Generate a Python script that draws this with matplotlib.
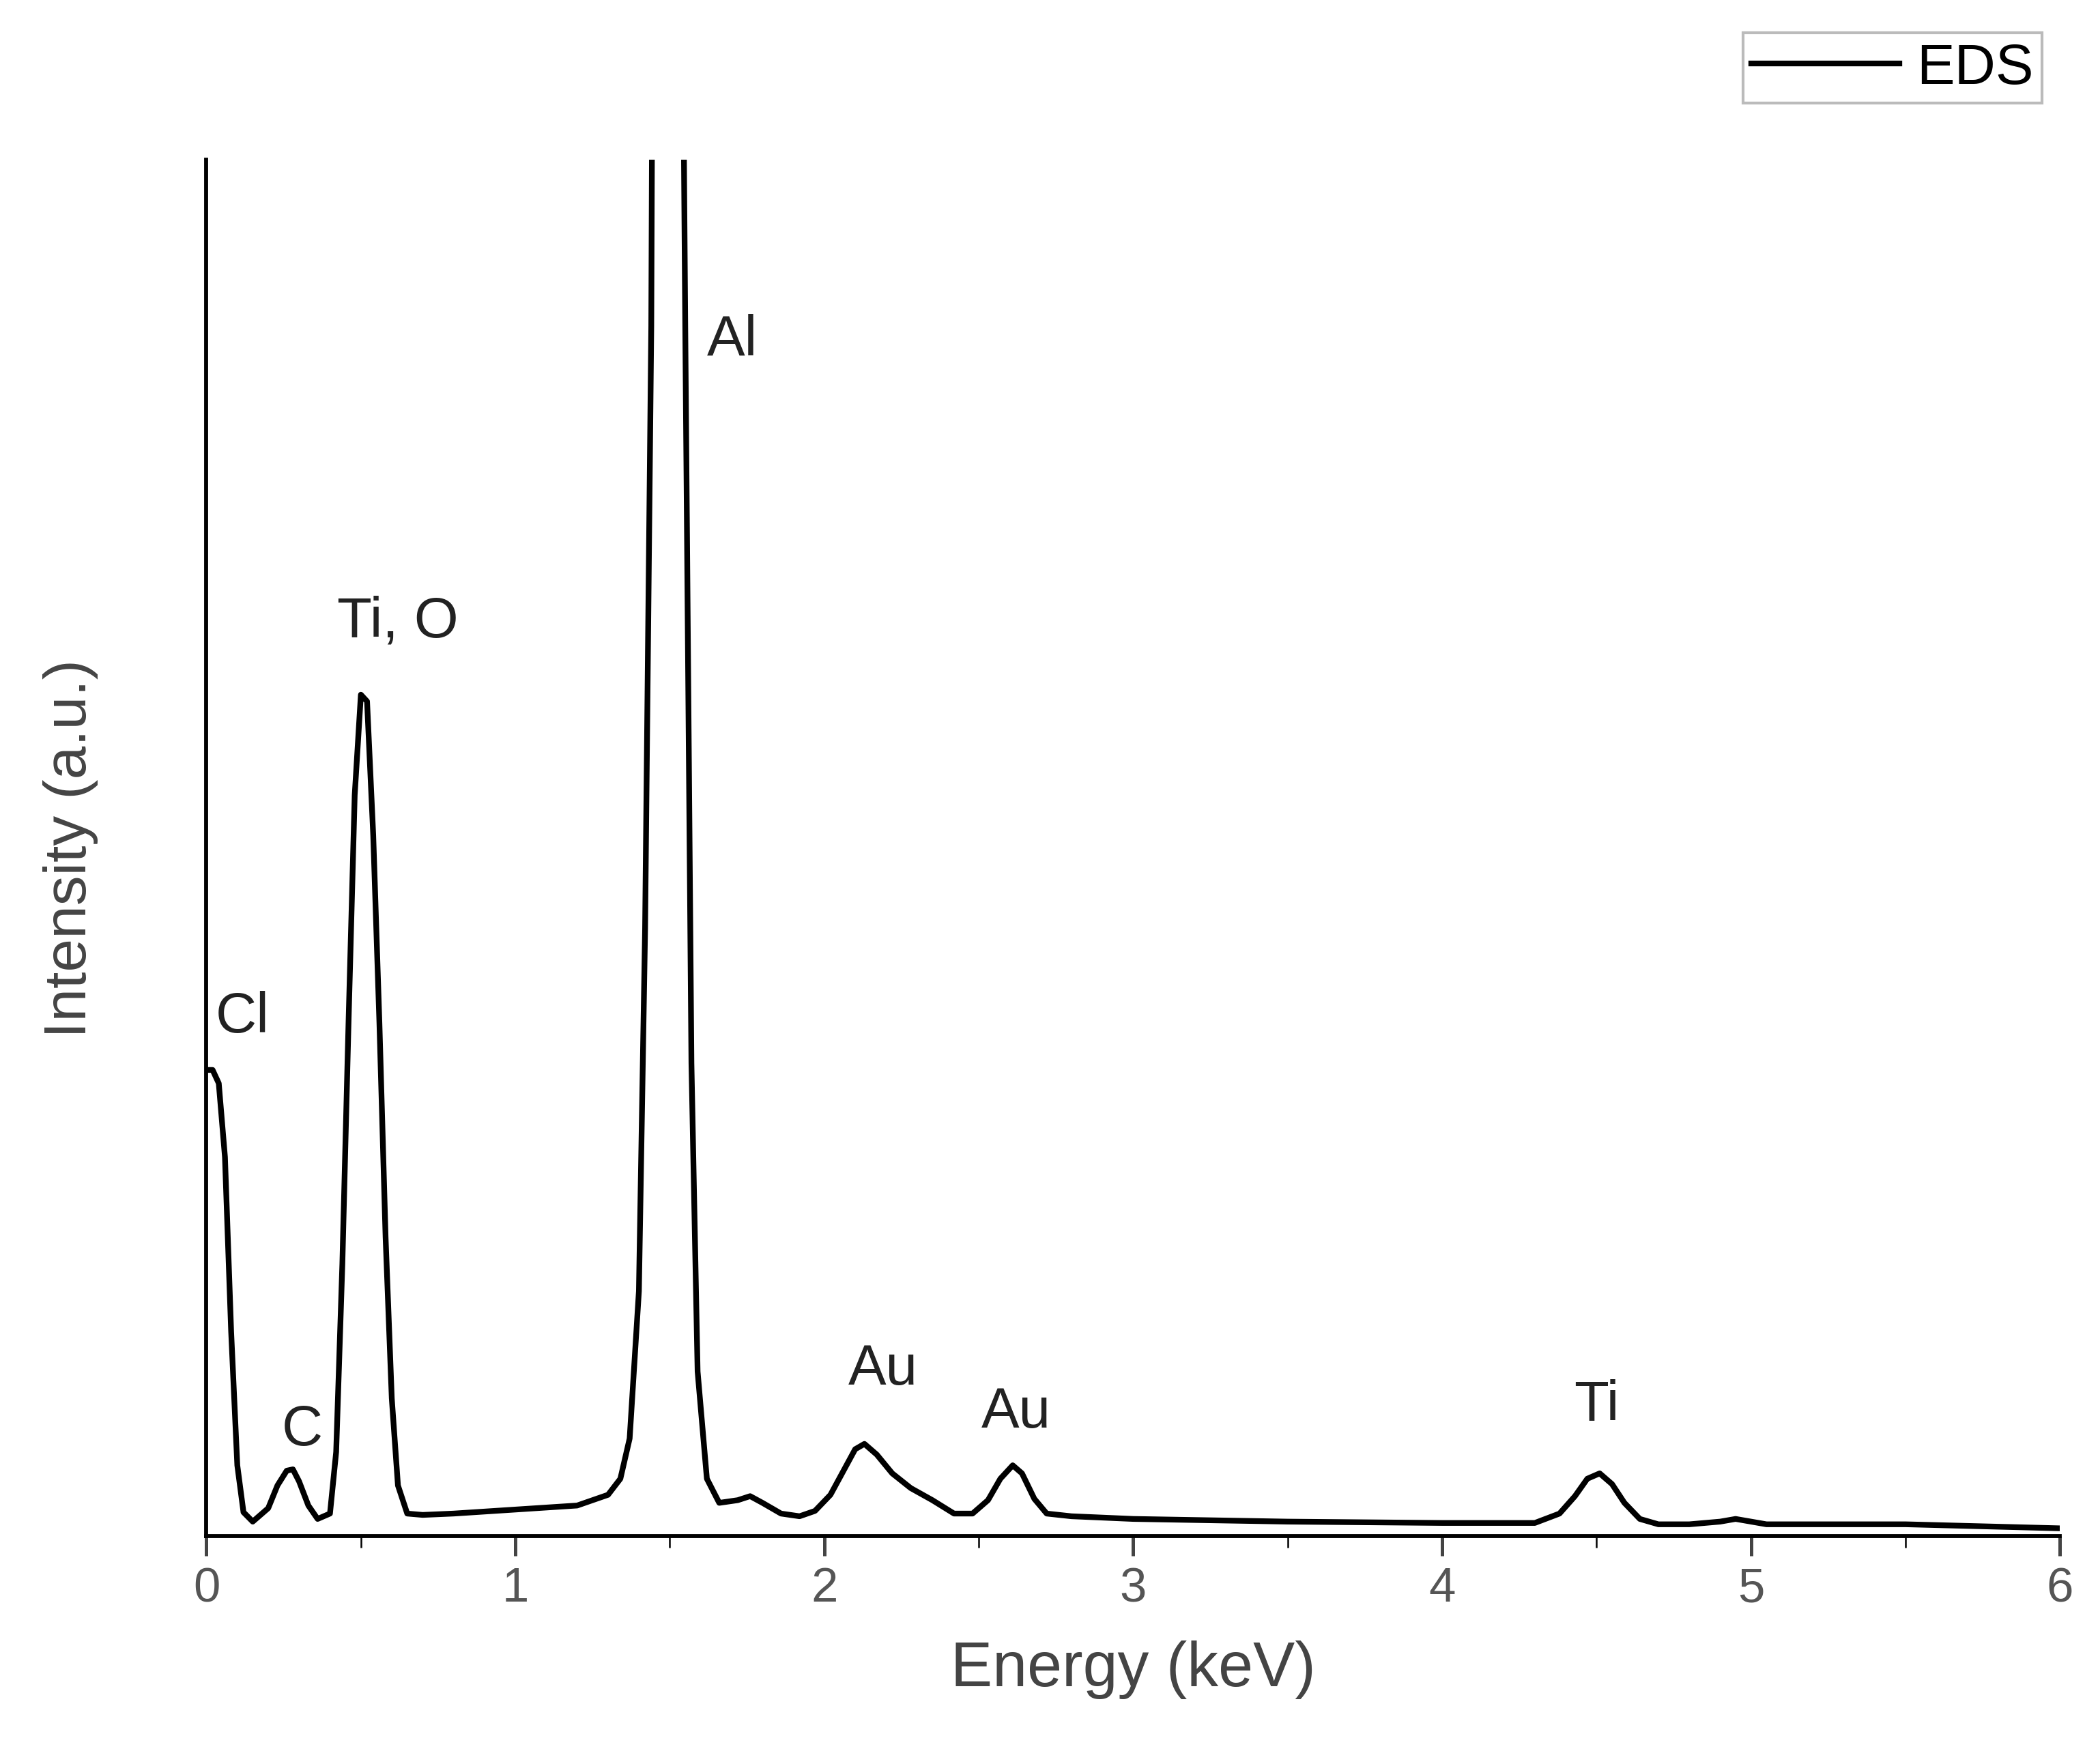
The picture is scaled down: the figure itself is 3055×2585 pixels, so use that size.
import numpy as np
import matplotlib.pyplot as plt

plt.rcParams['font.family'] = ['Liberation Sans', 'DejaVu Sans']

# spectrum (energy keV, intensity a.u.)
energy = [0.0, 0.02, 0.04, 0.06, 0.08, 0.1, 0.12, 0.15, 0.2, 0.23, 0.26, 0.28, 0.3, 0.33,
          0.36, 0.4, 0.42, 0.44, 0.46, 0.48, 0.5, 0.52, 0.54, 0.56, 0.58, 0.6, 0.62,
          0.65, 0.7, 0.8, 1.0, 1.2, 1.3, 1.34, 1.37, 1.4, 1.42, 1.44, 1.45, 1.5, 1.53,
          1.55, 1.57, 1.59, 1.62, 1.66, 1.72, 1.76, 1.8, 1.86, 1.92, 1.97, 2.02, 2.06,
          2.1, 2.13, 2.17, 2.22, 2.28, 2.35, 2.42, 2.48, 2.53, 2.57, 2.61, 2.64, 2.68,
          2.72, 2.8, 3.0, 3.5, 4.0, 4.3, 4.38, 4.43, 4.47, 4.51, 4.55, 4.59, 4.64, 4.7,
          4.8, 4.9, 4.95, 5.05, 5.5, 6.0]
intensity = [345, 345, 335, 280, 150, 50, 15, 8, 18, 35, 46, 47, 38, 20,
             10, 14, 60, 200, 380, 550, 625, 620, 520, 380, 220, 100, 35,
             14, 13, 14, 17, 20, 28, 40, 70, 180, 450, 900, 1500, 1600, 1500,
             900, 350, 120, 40, 22, 24, 27, 22, 14, 12, 16, 28, 45,
             62, 66, 58, 44, 33, 24, 14, 14, 24, 40, 50, 44, 25,
             14, 12, 10, 8, 7, 7, 14, 27, 40, 44, 36, 22, 10, 6,
             6, 8, 10, 6, 6, 3]

peak_labels = ['Cl', 'C', 'Ti, O', 'Al', 'Au', 'Au', 'Ti']
label_x = [0.03, 0.31, 0.62, 1.62, 2.19, 2.62, 4.5]
label_y = [365, 57, 660, 870, 102, 70, 75]

fig = plt.figure(figsize=(3055 / 300, 2586 / 300), dpi=300)
ax = fig.add_axes([0.099, 0.129, 0.889, 0.78])
line, = ax.plot(energy, intensity, color='black', lw=2, label='EDS')
ax.set_xlim(0, 6)
ax.set_ylim(-3, 1024)
ax.spines['top'].set_visible(False)
ax.spines['right'].set_visible(False)
ax.spines['left'].set_linewidth(1.4)
ax.spines['bottom'].set_linewidth(1.4)
ax.set_yticks([])
ax.set_xticks(range(7))
ax.set_xticks(np.arange(0.5, 6, 1), minor=True)
ax.tick_params(axis='x', direction='out', length=7, width=1.2, labelsize=17,
               labelcolor='#555555', color='#444444')
ax.tick_params(axis='x', which='minor', length=4)
ax.set_xlabel('Energy (keV)', fontsize=22, color='#444444', labelpad=10)
ax.set_ylabel('Intensity (a.u.)', fontsize=21, color='#444444', labelpad=38)

for t, x, y in zip(peak_labels, label_x, label_y):
    ha = 'left' if t in ('Cl', 'Al') else 'center'
    ax.text(x, y, t, fontsize=20, ha=ha, va='bottom', color='#222222')

fig.legend(handles=[line], loc='upper right', bbox_to_anchor=(0.993, 0.997),
           fontsize=20, fancybox=False, edgecolor='#aaaaaa', handlelength=2.6,
           borderpad=0.15, handletextpad=0.3)
fig.savefig('out.png', dpi=300)
